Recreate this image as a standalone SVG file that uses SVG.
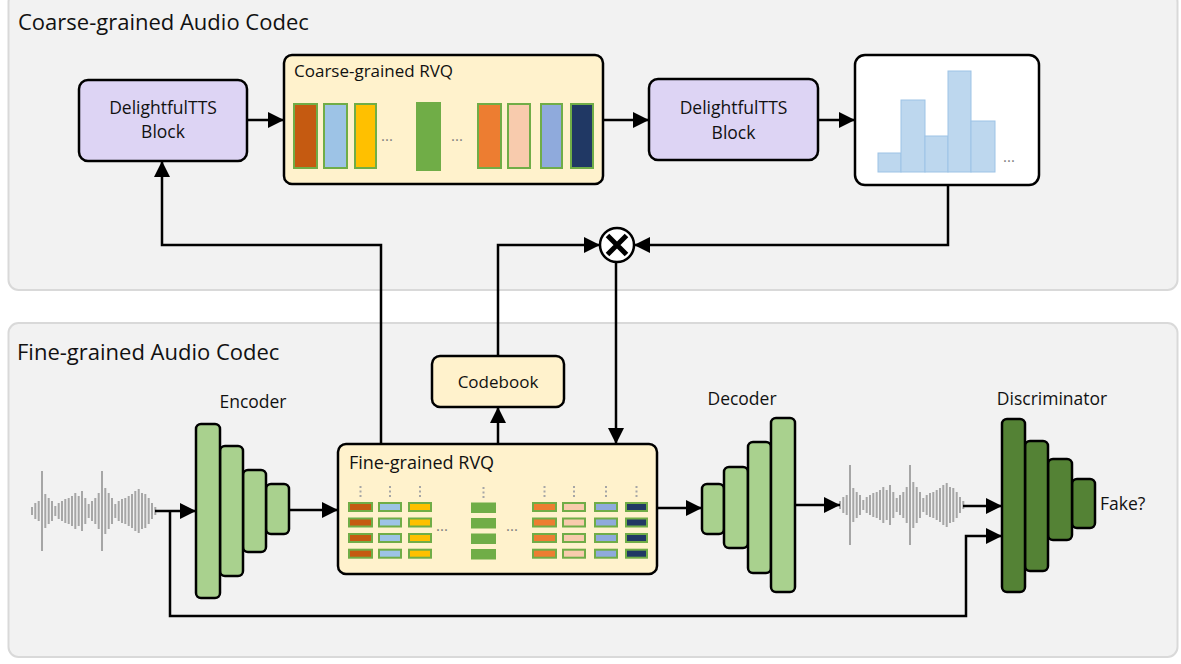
<svg xmlns="http://www.w3.org/2000/svg" xmlns:xlink="http://www.w3.org/1999/xlink" width="1181" height="664" viewBox="0 0 1181 664">
<style>
text{font-family:"Open Sans","Liberation Sans",sans-serif;fill:#111}
.panel{fill:#f2f2f2;stroke:#d9d9d9;stroke-width:2}
.box{stroke:#000;stroke-width:2.5}
.dtts{fill:#ddd4f4}
.rvq{fill:#fff2cc}
.enc{fill:#a9d18e;stroke:#000;stroke-width:2.5}
.dis{fill:#548235;stroke:#000;stroke-width:2.5}
.cb{stroke:#70ad47;stroke-width:2}
.hb{fill:#bdd7ee;stroke:#9dc3e6;stroke-width:1}
.dot{stroke:#a6a6a6;stroke-width:2;stroke-dasharray:2 2.5}
.ell{fill:#7f7f7f}
.conn{fill:none;stroke:#000;stroke-width:2.5}
.lbl{font-size:17.5px}
.title{font-size:22px}
.wave{fill:none;stroke:#a6a6a6;stroke-width:2}
</style>
<defs>
<marker id="ah" markerUnits="userSpaceOnUse" markerWidth="18" markerHeight="18" refX="16" refY="8.5" orient="auto">
<path d="M0,0.5 L16,8.5 L0,16.5 z" fill="#000"/>
</marker>
<path id="wv" class="wave" d="M0,-4V4 M3.3,-8V8 M6.7,-10V10 M10,-40V40 M13.3,-17V17 M16.7,-13V13 M20,-10V10 M23.3,-5V5 M26.7,-8V8 M30,-10V10 M33.3,-12V12 M36.7,-13V13 M40,-15V15 M43.3,-18V18 M46.7,-15V15 M50,-20V20 M53.3,-13V13 M56.7,-7V7 M60,-10V10 M63.3,-13V13 M66.7,-18V18 M70,-40V40 M73.3,-23V23 M76.7,-18V18 M80,-13V13 M83.3,-7V7 M86.7,-10V10 M90,-12V12 M93.3,-13V13 M96.7,-15V15 M100,-17V17 M103.3,-20V20 M106.7,-22V22 M110,-18V18 M113.3,-17V17 M116.7,-13V13 M120,-8V8 M123.3,-4V4"/>
</defs>

<g id="coarse-panel">
<rect class="panel" x="8.5" y="-8" width="1169" height="298" rx="10"/>
<text class="title" x="18" y="30">Coarse-grained Audio Codec</text>
</g>
<g id="fine-panel">
<rect class="panel" x="8.5" y="323" width="1169" height="334" rx="10"/>
<text class="title" x="17" y="360">Fine-grained Audio Codec</text>
</g>

<g id="dtts1">
<rect class="box dtts" x="79" y="80" width="168" height="81" rx="9"/>
<text class="lbl" x="163" y="114" text-anchor="middle">DelightfulTTS</text>
<text class="lbl" x="163" y="138" text-anchor="middle">Block</text>
</g>

<g id="coarse-rvq">
<rect class="box rvq" x="284" y="55" width="319" height="129" rx="8"/>
<text x="294" y="77" font-size="17">Coarse-grained RVQ</text>
<rect class="cb" x="294" y="104" width="23" height="64" fill="#c55a11"/>
<rect class="cb" x="324" y="104" width="23" height="64" fill="#9dc3e6"/>
<rect class="cb" x="355" y="104" width="21" height="64" fill="#ffc000"/>
<text class="ell" x="381" y="141" font-size="15">...</text>
<rect x="416" y="102" width="25" height="69" fill="#70ad47"/>
<text class="ell" x="451" y="141" font-size="15">...</text>
<rect class="cb" x="478" y="104" width="23" height="64" fill="#ed7d31"/>
<rect class="cb" x="508" y="104" width="22" height="64" fill="#f8cbad"/>
<rect class="cb" x="541" y="104" width="21" height="64" fill="#8faadc"/>
<rect class="cb" x="571" y="104" width="22" height="64" fill="#203864"/>
</g>

<g id="dtts2">
<rect class="box dtts" x="649" y="79" width="169" height="81" rx="9"/>
<text class="lbl" x="733.5" y="114" text-anchor="middle">DelightfulTTS</text>
<text class="lbl" x="733.5" y="139" text-anchor="middle">Block</text>
</g>

<g id="histogram">
<rect class="box" fill="#fff" x="855" y="55" width="184" height="130" rx="10"/>
<rect class="hb" x="878" y="153" width="23" height="19"/>
<rect class="hb" x="901" y="100" width="24" height="72"/>
<rect class="hb" x="925" y="136" width="23" height="36"/>
<rect class="hb" x="948" y="71" width="23" height="101"/>
<rect class="hb" x="971" y="121" width="24" height="51"/>
<text class="ell" x="1003" y="162" font-size="15">...</text>
</g>

<g id="multiply">
<circle cx="617" cy="245" r="17" fill="#fff" stroke="#000" stroke-width="2.5"/>
<path d="M607.5,235.5 L626.5,254.5 M626.5,235.5 L607.5,254.5" stroke="#000" stroke-width="5"/>
</g>

<g id="codebook">
<rect class="box rvq" x="432" y="356" width="132" height="51" rx="8"/>
<text x="498" y="388" font-size="17" text-anchor="middle">Codebook</text>
</g>

<g id="input-wave">
<use xlink:href="#wv" href="#wv" transform="translate(32,511)"/>
</g>

<g id="encoder">
<text class="lbl" x="253" y="408" text-anchor="middle">Encoder</text>
<rect class="enc" x="266" y="484" width="23" height="50" rx="5"/>
<rect class="enc" x="243" y="470" width="23" height="82" rx="5"/>
<rect class="enc" x="220" y="446" width="23" height="130" rx="5"/>
<rect class="enc" x="196" y="424" width="24" height="174" rx="5"/>
</g>

<g id="fine-rvq">
<rect class="box rvq" x="338" y="444" width="319" height="130" rx="8"/>
<text x="349" y="469" font-size="18">Fine-grained RVQ</text>
<path class="dot" d="M360.5,486V499 M390,486V499 M420,486V499 M483.5,487V500 M544.5,486V499 M574,486V499 M606,486V499 M636.5,486V499"/>
<g fill="#c55a11" class="cb">
<rect x="349" y="503" width="23" height="8"/><rect x="349" y="518.5" width="23" height="8"/><rect x="349" y="534" width="23" height="8"/><rect x="349" y="549.7" width="23" height="8"/>
</g>
<g fill="#9dc3e6" class="cb">
<rect x="379" y="503" width="22" height="8"/><rect x="379" y="518.5" width="22" height="8"/><rect x="379" y="534" width="22" height="8"/><rect x="379" y="549.7" width="22" height="8"/>
</g>
<g fill="#ffc000" class="cb">
<rect x="409" y="503" width="22" height="8"/><rect x="409" y="518.5" width="22" height="8"/><rect x="409" y="534" width="22" height="8"/><rect x="409" y="549.7" width="22" height="8"/>
</g>
<text class="ell" x="436" y="531" font-size="15">...</text>
<g fill="#70ad47">
<rect x="471" y="502.5" width="25" height="10.5"/><rect x="471" y="518" width="25" height="10.5"/><rect x="471" y="533.5" width="25" height="10.5"/><rect x="471" y="549" width="25" height="10.5"/>
</g>
<text class="ell" x="506" y="531" font-size="15">...</text>
<g fill="#ed7d31" class="cb">
<rect x="533" y="503" width="23" height="8"/><rect x="533" y="518.5" width="23" height="8"/><rect x="533" y="534" width="23" height="8"/><rect x="533" y="549.7" width="23" height="8"/>
</g>
<g fill="#f8cbad" class="cb">
<rect x="563" y="503" width="22" height="8"/><rect x="563" y="518.5" width="22" height="8"/><rect x="563" y="534" width="22" height="8"/><rect x="563" y="549.7" width="22" height="8"/>
</g>
<g fill="#8faadc" class="cb">
<rect x="595" y="503" width="22" height="8"/><rect x="595" y="518.5" width="22" height="8"/><rect x="595" y="534" width="22" height="8"/><rect x="595" y="549.7" width="22" height="8"/>
</g>
<g fill="#203864" class="cb">
<rect x="626" y="503" width="21" height="8"/><rect x="626" y="518.5" width="21" height="8"/><rect x="626" y="534" width="21" height="8"/><rect x="626" y="549.7" width="21" height="8"/>
</g>
</g>

<g id="decoder">
<text class="lbl" x="742" y="405" text-anchor="middle">Decoder</text>
<rect class="enc" x="702" y="484" width="22" height="50" rx="5"/>
<rect class="enc" x="724" y="467" width="24" height="81" rx="5"/>
<rect class="enc" x="748" y="442" width="23" height="131" rx="5"/>
<rect class="enc" x="771" y="418" width="24" height="174" rx="5"/>
</g>

<g id="output-wave">
<use xlink:href="#wv" href="#wv" transform="translate(840,505)"/>
</g>

<g id="discriminator">
<text class="lbl" x="1052" y="405" text-anchor="middle">Discriminator</text>
<rect class="dis" x="1072" y="479" width="23" height="49" rx="5"/>
<rect class="dis" x="1048" y="459" width="24" height="81" rx="5"/>
<rect class="dis" x="1025" y="441" width="23" height="130" rx="5"/>
<rect class="dis" x="1002" y="419" width="23" height="173" rx="5"/>
<text class="lbl" x="1100" y="510">Fake?</text>
</g>

<g id="connectors">
<path class="conn" marker-end="url(#ah)" d="M247,120 H284"/>
<path class="conn" marker-end="url(#ah)" d="M603,120 H649"/>
<path class="conn" marker-end="url(#ah)" d="M818,120 H855"/>
<path class="conn" marker-end="url(#ah)" d="M948,185 V245 H634"/>
<path class="conn" marker-end="url(#ah)" d="M498,356 V245 H600"/>
<path class="conn" marker-end="url(#ah)" d="M616,262 V444"/>
<path class="conn" marker-end="url(#ah)" d="M498,444 V407"/>
<path class="conn" marker-end="url(#ah)" d="M381,444 V245 H162 V161"/>
<path class="conn" marker-end="url(#ah)" d="M155,511 H196"/>
<path class="conn" marker-end="url(#ah)" d="M170,511 V616 H966 V536 H1002"/>
<path class="conn" marker-end="url(#ah)" d="M289,510 H338"/>
<path class="conn" marker-end="url(#ah)" d="M657,508 H702"/>
<path class="conn" marker-end="url(#ah)" d="M795,505 H840"/>
<path class="conn" marker-end="url(#ah)" d="M963,506 H1002"/>
</g>
</svg>
